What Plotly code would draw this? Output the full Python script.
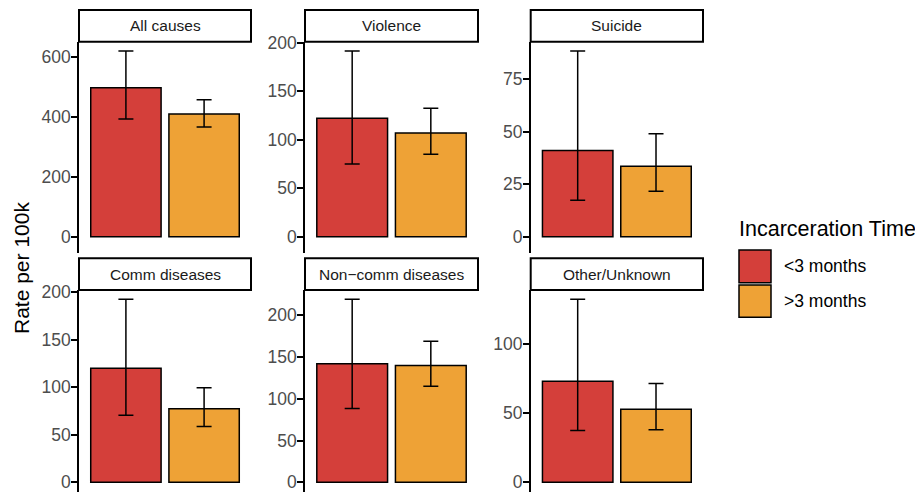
import plotly.graph_objects as go

# ---- data ----
causes = ["All causes", "Violence", "Suicide", "Comm diseases", "Non\u2212comm diseases", "Other/Unknown"]
groups = ["<3 months", ">3 months"]
lt3_rate = [497, 122, 41.0, 120, 142, 73]
lt3_low = [393, 75, 17.4, 70.5, 88.4, 37.4]
lt3_high = [620, 191.4, 88.3, 192.7, 219.3, 132.3]
gt3_rate = [410, 107, 33.5, 77.3, 139.8, 52.8]
gt3_low = [366, 85, 21.7, 58.7, 115, 37.9]
gt3_high = [457, 132.4, 49.0, 99.5, 169, 71.3]
tick_vals = [
    [0, 200, 400, 600],
    [0, 50, 100, 150, 200],
    [0, 25, 50, 75],
    [0, 50, 100, 150, 200],
    [0, 50, 100, 150, 200],
    [0, 50, 100],
]

# ---- style ----
OFF = 8  # page body margin
W, H = 923 - OFF, 492 - OFF
RED = "#D43F3A"
ORANGE = "#EEA236"
FONT = "Liberation Sans, Arial, sans-serif"
col_px = [(79, 251), (305, 478), (530.7, 703)]
# (strip top, panel top, zero line, panel bottom) in screen pixels
row_px = [(10, 41.7, 236.8, 253), (258.3, 290, 482.3, 492)]

def px_x(p):
    return (p - OFF) / W

def px_y(p):
    return 1 - (p - OFF) / H

fig = go.Figure()
layout = dict(
    template="none",
    width=W, height=H, margin=dict(l=0, r=0, t=0, b=0, pad=0, autoexpand=False),
    paper_bgcolor="white", plot_bgcolor="white",
    barmode="overlay", showlegend=False,
    font=dict(family=FONT),
)
shapes = []
annotations = []

for i, cause in enumerate(causes):
    r, c = divmod(i, 3)
    n = i + 1
    xa = "x" if n == 1 else f"x{n}"
    ya = "y" if n == 1 else f"y{n}"
    for xpos, rate, lo, hi, color, g in [
        (1, lt3_rate[i], lt3_low[i], lt3_high[i], RED, groups[0]),
        (2, gt3_rate[i], gt3_low[i], gt3_high[i], ORANGE, groups[1]),
    ]:
        fig.add_trace(go.Bar(
            x=[xpos], y=[rate], width=0.9, name=g,
            marker=dict(color=color, line=dict(color="black", width=1.5)),
            error_y=dict(type="data", symmetric=False, array=[hi - rate],
                         arrayminus=[rate - lo], color="black", thickness=1.5, width=7.5),
            xaxis=xa, yaxis=ya, hoverinfo="skip",
        ))
    x0, x1 = col_px[c]
    st, pt, pz, pb = row_px[r]
    M = max(lt3_high[i], gt3_high[i], lt3_rate[i], gt3_rate[i])
    top = 1.05 * M
    ppu = (pz - pt) / top
    bottom = -(pb - pz) / ppu
    layout["xaxis" if n == 1 else f"xaxis{n}"] = dict(
        domain=[px_x(x0), px_x(x1)], range=[0.4, 2.6], visible=False,
        anchor=ya, automargin=False,
    )
    layout["yaxis" if n == 1 else f"yaxis{n}"] = dict(
        domain=[px_y(pb), px_y(pt)], range=[bottom, top], anchor=xa,
        automargin=False, ticklabeloverflow="allow",
        showline=True, linecolor="black", linewidth=1.6,
        ticks="outside", ticklen=6, tickwidth=1.5, tickcolor="black",
        ticklabelstandoff=-3,
        tickvals=tick_vals[i], tickfont=dict(size=17.5, color="#4D4D4D", family=FONT),
        showgrid=False, zeroline=False, fixedrange=True,
    )
    # strip
    shapes.append(dict(type="rect", xref="paper", yref="paper",
                       x0=px_x(x0), x1=px_x(x1), y0=px_y(pt), y1=px_y(st),
                       line=dict(color="black", width=2), fillcolor="white"))
    annotations.append(dict(xref="paper", yref="paper", x=px_x((x0 + x1) / 2),
                            y=px_y((st + pt) / 2), text=cause, showarrow=False,
                            xanchor="center", yanchor="middle",
                            font=dict(size=15.5, color="#1A1A1A", family=FONT)))

# y axis title
annotations.append(dict(xref="paper", yref="paper", x=px_x(21), y=px_y(268),
                        text="Rate per 100k", textangle=-90, showarrow=False,
                        xanchor="center", yanchor="middle",
                        font=dict(size=21, color="black", family=FONT)))

# legend (drawn manually)
annotations.append(dict(xref="paper", yref="paper", x=px_x(737), y=px_y(229),
                        text="Incarceration Time", showarrow=False,
                        xanchor="left", yanchor="middle",
                        font=dict(size=21.5, color="black", family=FONT)))
for (ky0, ky1), color, g in [((250, 282.7), RED, groups[0]), ((285, 317.3), ORANGE, groups[1])]:
    shapes.append(dict(type="rect", xref="paper", yref="paper",
                       x0=px_x(739), x1=px_x(771), y0=px_y(ky1), y1=px_y(ky0),
                       line=dict(color="black", width=1.5), fillcolor=color))
    annotations.append(dict(xref="paper", yref="paper", x=px_x(782), y=px_y((ky0 + ky1) / 2),
                            text=g.replace("<", "&lt;").replace(">", "&gt;"), showarrow=False,
                            xanchor="left", yanchor="middle",
                            font=dict(size=17.5, color="black", family=FONT)))

layout["shapes"] = shapes
layout["annotations"] = annotations
fig.update_layout(**layout)
fig.write_html("out.html")
